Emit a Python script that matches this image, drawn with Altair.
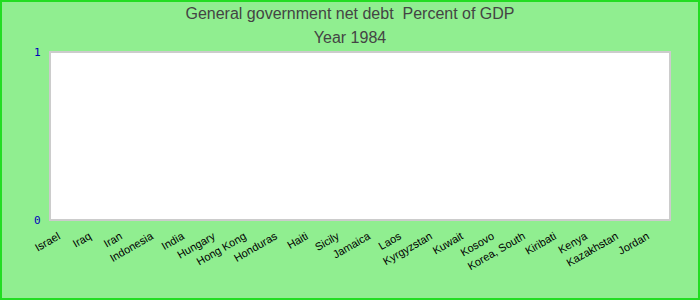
import altair as alt
import pandas as pd

countries = ["Israel", "Iraq", "Iran", "Indonesia", "India", "Hungary", "Hong Kong",
             "Honduras", "Haiti", "Sicily", "Jamaica", "Laos", "Kyrgyzstan", "Kuwait",
             "Kosovo", "Korea, South", "Kiribati", "Kenya", "Kazakhstan", "Jordan"]
values = [None] * len(countries)
y_ticks = [0, 1]
title_lines = ["General government net debt \u00a0Percent of GDP", "Year 1984"]

df = pd.DataFrame({"country": countries, "value": values})

bars = alt.Chart(df).mark_bar(color="#3366cc").encode(
    x=alt.X("country:N", sort=countries, title=None,
            scale=alt.Scale(paddingInner=0.2, paddingOuter=0.1),
            axis=alt.Axis(labelAngle=-30, labelAlign="right", labelBaseline="top",
                          labelPadding=10, labelOffset=-9, ticks=False, domain=False,
                          labelFont="Liberation Sans", labelFontSize=11,
                          labelColor="#000000", labelOverlap=False)),
    y=alt.Y("value:Q", title=None, scale=alt.Scale(domain=[0, 1], nice=False),
            axis=alt.Axis(values=y_ticks, format="d", ticks=False, domain=False, grid=False,
                          labelFont="DejaVu Sans Mono", labelFontSize=11,
                          labelColor="#0000bb", labelPadding=10)),
)

border = alt.Chart(pd.DataFrame({"a": [0]})).mark_rect(
    fillOpacity=0, stroke="#22dd22", strokeWidth=2
).encode(x=alt.value(-49), x2=alt.value(649), y=alt.value(-51), y2=alt.value(247))

chart = alt.layer(bars, border).properties(
    width=620, height=168,
    padding={"left": 50, "right": 30, "top": 52, "bottom": 80},
    autosize=alt.AutoSizeParams(type="none"),
    background="#90ee90",
    title=alt.TitleParams(
        text=title_lines,
        font="Liberation Sans", fontSize=16, fontWeight="normal", color="#444444",
        lineHeight=24, anchor="middle", frame="group", dx=-10, dy=56, offset=10),
).configure_view(fill="white", stroke="#cccccc", strokeWidth=2)

chart.save("out.html", embed_options={"renderer": "svg", "actions": False})
